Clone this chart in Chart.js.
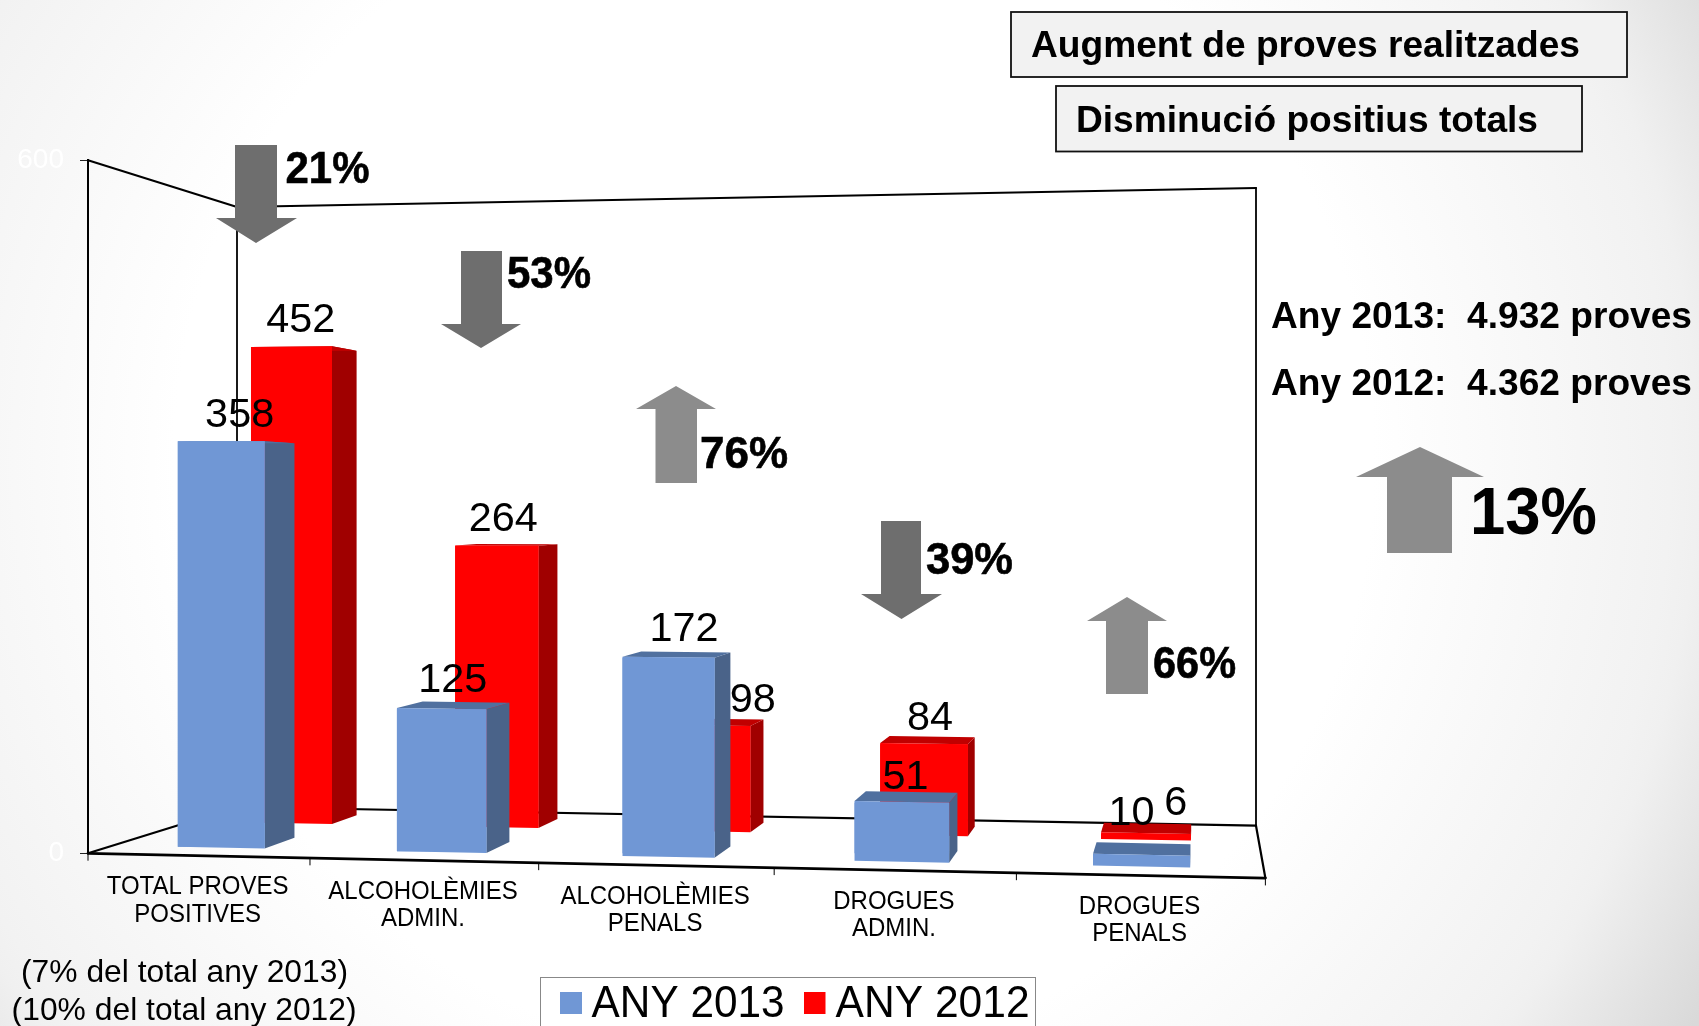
<!DOCTYPE html>
<html><head><meta charset="utf-8">
<script src="https://cdn.jsdelivr.net/npm/chart.js@4/dist/chart.umd.js"></script>
<style>
html,body{margin:0;padding:0;width:1699px;height:1026px;overflow:hidden;
background:radial-gradient(circle 1100px at 774px 462px,#fff 54.5%,#f2f2f2 81.5%,#f0f0f0 84%,#d9d9d9 98%);}
canvas{display:block}
</style></head><body>
<canvas id="c" width="1699" height="1026"></canvas>
<script>
const CATEGORIES=[['TOTAL PROVES','POSITIVES'],['ALCOHOLÈMIES','ADMIN.'],['ALCOHOLÈMIES','PENALS'],['DROGUES','ADMIN.'],['DROGUES','PENALS']];
const VALUES_2013=[358,125,172,51,10];
const VALUES_2012=[452,264,98,84,6];
const SERIES_NAMES=['ANY 2013','ANY 2012'];
const Y_TICKS=[0,600];

const FONT='"Liberation Sans", Arial, sans-serif';
const STYLE=[{front:'#7097d5',side:'#4a6389',top:'#50709f',depth:[.17,.40]},
             {front:'#ff0000',side:'#a00000',top:'#c00000',depth:[.69,.88]}];
const NUDGE=[[[3,1],[-1,3],[7,2],[-1,8],[-11,-8]],[[-3.5,-.5],[-3.5,2],[38,6],[2,6],[29,3]]];

const lerp=(a,b,t)=>a+(b-a)*t;
function project(u,v,w){
  const fx=88+218.6*u+3.375*u*u, fy=853.3+(fx-88)*.021;
  const bx=237+191.3*u+2.5*u*u, by=807+(bx-237)*.01835;
  const s=lerp(1.155+.013*u,1+.0126*u,w);
  return {x:lerp(fx,bx,w),y:lerp(fy,by,w)-v*s};
}
function poly(ctx,pts,fill){
  ctx.beginPath();pts.forEach((p,i)=>i?ctx.lineTo(p.x,p.y):ctx.moveTo(p.x,p.y));ctx.closePath();
  ctx.fillStyle=fill;ctx.fill();
}
function line(ctx,a,b,lw){ctx.beginPath();ctx.moveTo(a.x,a.y);ctx.lineTo(b.x,b.y);ctx.lineWidth=lw;ctx.strokeStyle='#000';ctx.stroke();}
function text(ctx,str,x,y,font,o={}){
  ctx.save();ctx.font=font;ctx.fillStyle=o.color||'#000';ctx.textBaseline='alphabetic';ctx.textAlign='left';
  const m=ctx.measureText(str).width, sx=o.width?o.width/m:(o.stretch||1);
  const left=o.center?x-m*sx/2:x;
  ctx.translate(left,y);ctx.scale(sx,1);
  ctx.fillText(str,0,0);
  if(o.heavy){ctx.lineWidth=o.heavy;ctx.strokeStyle=ctx.fillStyle;ctx.strokeText(str,0,0);}
  ctx.restore();
}
function arrow(ctx,sl,sr,head1,head2,tipx,tailY,shoulderY,tipY,color){
  ctx.beginPath();ctx.moveTo(sl,tailY);ctx.lineTo(sr,tailY);ctx.lineTo(sr,shoulderY);ctx.lineTo(head2,shoulderY);
  ctx.lineTo(tipx,tipY);ctx.lineTo(head1,shoulderY);ctx.lineTo(sl,shoulderY);ctx.closePath();ctx.fillStyle=color;ctx.fill();
}
const DOWN='#6e6e6e',UP='#8c8c8c';

const box3d={
  id:'box3d',
  afterDatasetsUpdate(chart){
    const xs=chart.scales.x,ys=chart.scales.y,cw=xs.width/CATEGORIES.length;
    chart.data.datasets.forEach((ds,d)=>{
      const [w1,w2]=STYLE[d].depth;
      chart.getDatasetMeta(d).data.forEach((el,i)=>{
        const v=ys.getValueForPixel(el.y);
        const u1=(el.x-el.width/2-xs.left)/cw,u2=(el.x+el.width/2-xs.left)/cw,um=(u1+u2)/2;
        const b={fl0:project(u1,0,w1),fr0:project(u2,0,w1),flv:project(u1,v,w1),frv:project(u2,v,w1),
          br0:project(u2,0,w2),brv:project(u2,v,w2),blv:project(u1,v,w2),mid:project(um,v,(w1+w2)/2),v};
        el.$b=b;
        el.x=(b.fl0.x+b.fr0.x)/2;el.width=b.fr0.x-b.fl0.x;
        el.y=Math.max(b.flv.y,b.frv.y);el.base=Math.min(b.fl0.y,b.fr0.y);el.height=el.base-el.y;
      });
    });
  },
  beforeDatasetsDraw(chart){
    const c=chart.ctx;c.save();c.lineCap='round';
    const n=CATEGORIES.length,top=Y_TICKS[1];
    line(c,project(0,top,0),project(0,top,1),2);
    line(c,project(0,top,1),project(n,top,1),2);
    line(c,project(0,top,1),project(0,0,1),1.8);
    line(c,project(n,top,1),project(n,0,1),1.8);
    line(c,project(0,0,1),project(n,0,1),2.2);
    line(c,project(0,0,0),project(0,0,1),2.2);
    line(c,project(n,0,1),project(n,0,0),2.2);
    line(c,project(0,0,0),project(n,0,0),2.8);
    for(let k=0;k<=n;k++){const p=project(k,0,0);line(c,p,{x:p.x,y:p.y+7},1);}
    c.restore();
  },
  beforeDatasetDraw(chart,{index}){
    const c=chart.ctx,st=STYLE[index];
    chart.getDatasetMeta(index).data.forEach(el=>{
      const b=el.$b;
      poly(c,[b.fr0,b.br0,b.brv,b.frv],st.side);
      poly(c,[b.flv,b.frv,b.brv,b.blv],st.top);
      poly(c,[b.fl0,b.fr0,b.frv,b.flv],st.front);
    });
  },
  afterDatasetsDraw(chart){
    const c=chart.ctx;
    // arrows
    arrow(c,235,277,216,297,256,145,218,243,DOWN);
    arrow(c,461,502,441,521,481,251,324,348,DOWN);
    arrow(c,655.5,697,636,716,676,483,409,386,UP);
    arrow(c,881,921,861,942,901.5,521,594,619,DOWN);
    arrow(c,1106,1148,1087,1167,1127,694,621,597,UP);
    arrow(c,1387,1452,1356,1484,1420,553,477,447,UP);
    // value labels
    chart.data.datasets.forEach((ds,d)=>{
      chart.getDatasetMeta(d).data.forEach((el,i)=>{
        const n=NUDGE[d][i],m=el.$b.mid;
        text(c,String(ds.data[i]),m.x+n[0],m.y-16+n[1],'41px '+FONT,{center:true,stretch:1.01});
      });
    });
    // category labels
    CATEGORIES.forEach((lab,i)=>{
      const p=project(i+.5,0,0);
      lab.forEach((s,j)=>text(c,s,p.x-.5,p.y+38.5+j*27.4,'25px '+FONT,{center:true,stretch:.96}));
    });
    // boxes
    [[1011,12,616,65],[1056,86,526,65.5]].forEach(([x,y,w,h])=>{
      c.fillStyle='#f2f2f2';c.fillRect(x,y,w,h);c.lineWidth=1.8;c.strokeStyle='#111';c.strokeRect(x,y,w,h);});
    text(c,'Augment de proves realitzades',1031,56.7,'bold 37px '+FONT,{width:549});
    text(c,'Disminució positius totals',1076,131.7,'bold 37px '+FONT,{width:462});
    text(c,'Any 2013:  4.932 proves',1271,328.3,'bold 37px '+FONT,{width:421});
    text(c,'Any 2012:  4.362 proves',1271,395,'bold 37px '+FONT,{width:421});
    text(c,'13%',1470,534,'bold 66px '+FONT,{width:127});
    text(c,'21%',285.5,182.7,'bold 44px '+FONT,{width:84,heavy:.6});
    text(c,'53%',507,288,'bold 44px '+FONT,{width:84,heavy:.6});
    text(c,'76%',700,468,'bold 44px '+FONT,{width:88,heavy:.6});
    text(c,'39%',926,574,'bold 44px '+FONT,{width:87,heavy:.6});
    text(c,'66%',1153,678,'bold 44px '+FONT,{width:83,heavy:.6});
    text(c,'(7% del total any 2013)',21,981.7,'32px '+FONT,{width:327});
    text(c,'(10% del total any 2012)',11.6,1020,'32px '+FONT,{width:345});
    // legend
    c.fillStyle='#fff';c.fillRect(540.5,977.5,495,60);c.lineWidth=1;c.strokeStyle='#888';c.strokeRect(540.5,977.5,495,60);
    [[560,591.6,22,193],[804,835.6,21.5,194]].forEach(([mx,tx,mw,tw],d)=>{
      c.fillStyle=STYLE[d].front;c.fillRect(mx,992,mw,22);
      text(c,SERIES_NAMES[d],tx,1016.7,'44px '+FONT,{width:tw});
    });
  }
};

new Chart(document.getElementById('c'),{
  type:'bar',
  data:{labels:CATEGORIES,datasets:[
    {label:SERIES_NAMES[0],data:VALUES_2013,backgroundColor:STYLE[0].front,grouped:false,barPercentage:.4,categoryPercentage:1},
    {label:SERIES_NAMES[1],data:VALUES_2012,backgroundColor:STYLE[1].front,grouped:false,barPercentage:.4,categoryPercentage:1}
  ]},
  options:{
    responsive:false,animation:false,
    layout:{padding:{left:0,top:160.3,right:433,bottom:172.7}},
    plugins:{legend:{display:false},tooltip:{enabled:false}},
    scales:{
      x:{display:false},
      y:{min:Y_TICKS[0],max:Y_TICKS[1],
        afterBuildTicks(s){s.ticks=Y_TICKS.map(v=>({value:v}));},
        afterFit(s){s.width=88;},
        ticks:{color:'#ffffff',font:{family:'Liberation Sans',size:28},padding:16,autoSkip:false},
        grid:{drawOnChartArea:false,drawTicks:true,tickLength:8,color:'#222'},
        border:{color:'#000',width:2}}
    }
  },
  plugins:[box3d]
});
</script>
</body></html>
